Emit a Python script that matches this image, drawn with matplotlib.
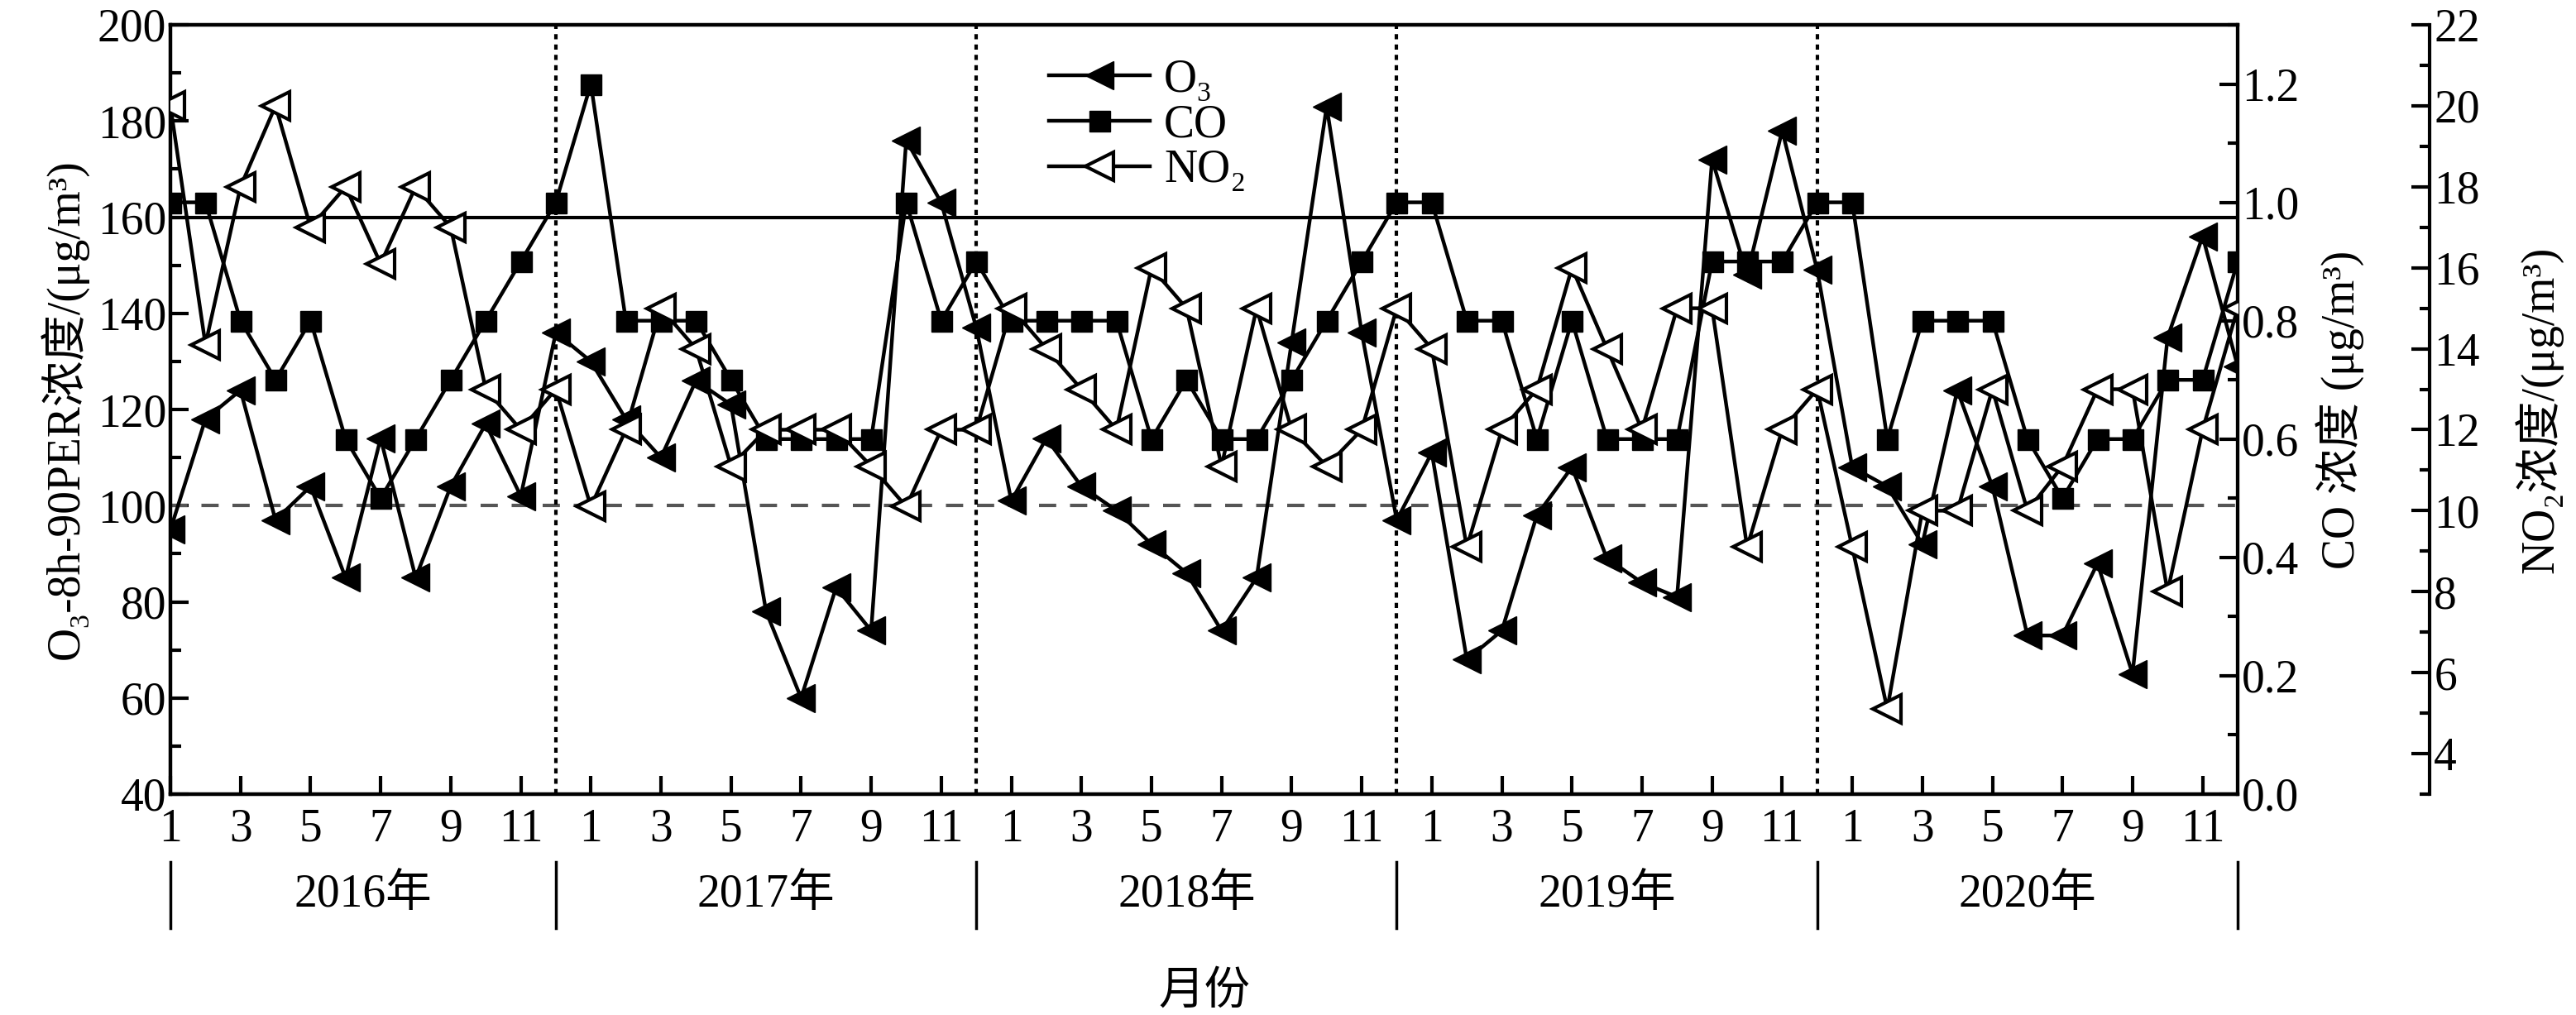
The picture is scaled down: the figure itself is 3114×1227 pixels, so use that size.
import numpy as np
import matplotlib.pyplot as plt
from matplotlib.lines import Line2D
from matplotlib.ticker import MultipleLocator

plt.rcParams['font.family'] = ['Liberation Serif', 'DejaVu Serif', 'Noto Sans CJK SC']
plt.rcParams['font.size'] = 40

years = ['2016年', '2017年', '2018年', '2019年', '2020年']

o3 = [95, 118, 124, 97, 104, 85, 114, 85, 104, 117, 102, 136,
      130, 118, 110, 126, 121, 78, 60, 83, 74, 176, 163, 137,
      101, 114, 104, 99, 92, 86, 74, 85, 134, 183, 136, 97,
      111, 68, 74, 98, 108, 89, 84, 81, 172, 148, 178, 149,
      108, 104, 92, 124, 104, 73, 73, 88, 65, 135, 156, 129]

co = [1.0, 1.0, 0.8, 0.7, 0.8, 0.6, 0.5, 0.6, 0.7, 0.8, 0.9, 1.0,
      1.2, 0.8, 0.8, 0.8, 0.7, 0.6, 0.6, 0.6, 0.6, 1.0, 0.8, 0.9,
      0.8, 0.8, 0.8, 0.8, 0.6, 0.7, 0.6, 0.6, 0.7, 0.8, 0.9, 1.0,
      1.0, 0.8, 0.8, 0.6, 0.8, 0.6, 0.6, 0.6, 0.9, 0.9, 0.9, 1.0,
      1.0, 0.6, 0.8, 0.8, 0.8, 0.6, 0.5, 0.6, 0.6, 0.7, 0.7, 0.9]

no2 = [20.0, 14.1, 18.0, 20.0, 17.0, 18.0, 16.1, 18.0, 17.0, 13.0, 12.0, 13.0,
       10.1, 12.0, 15.0, 14.0, 11.1, 12.0, 12.0, 12.0, 11.1, 10.1, 12.0, 12.0,
       15.0, 14.0, 13.0, 12.0, 16.0, 15.0, 11.1, 15.0, 12.0, 11.1, 12.0, 15.0,
       14.0, 9.1, 12.0, 13.0, 16.0, 14.0, 12.0, 15.0, 15.0, 9.1, 12.0, 13.0,
       9.1, 5.1, 10.0, 10.0, 13.0, 10.0, 11.1, 13.0, 13.0, 8.0, 12.0, 15.0]

x = np.arange(1, 61)

fig = plt.figure(figsize=(31.14, 12.27), dpi=100)
ax = fig.add_axes([206 / 3114, 1 - 960 / 1227, (2705 - 206) / 3114, (960 - 30) / 1227])
ax2 = ax.twinx()
ax3 = ax.twinx()
ax3.spines['right'].set_position(('axes', 1.093))

lw = 3.2
ax.plot(x, o3, '-', color='k', lw=lw, marker='<', ms=24, zorder=3)
ax2.plot(x, co, '-', color='k', lw=lw, marker='s', ms=18, zorder=3)
ax3.plot(x, no2, '-', color='k', lw=lw, marker='<', ms=24, mfc='white', mew=3, zorder=3)

ax.axhline(160, color='k', lw=3)
ax.axhline(100, color='#555555', lw=3, ls=(0, (5, 4)))
for b in [12, 24, 36, 48]:
    ax.axvline(b, color='k', lw=3, ls=(0, (1.5, 1.5)))

ax.set_xlim(1, 60)
ax.set_ylim(40, 200)
ax2.set_ylim(0, 1.3)
ax3.set_ylim(3, 22)

ticks = [12 * i + m for i in range(5) for m in range(1, 12, 2)]
ax.set_xticks(ticks)
ax.set_xticklabels([str(m) for i in range(5) for m in range(1, 12, 2)])
ax.yaxis.set_major_locator(MultipleLocator(20))
ax.yaxis.set_minor_locator(MultipleLocator(10))
ax2.yaxis.set_major_locator(MultipleLocator(0.2))
ax2.yaxis.set_minor_locator(MultipleLocator(0.1))
ax2.yaxis.set_major_formatter(plt.FormatStrFormatter('%.1f'))
ax3.set_yticks(np.arange(4, 23, 2))
ax3.yaxis.set_minor_locator(MultipleLocator(1))

for a in (ax, ax2, ax3):
    a.tick_params(which='both', direction='in', width=3, labelsize=40)
    a.tick_params(which='major', length=16)
    a.tick_params(which='minor', length=9)
    for s in a.spines.values():
        s.set_linewidth(3)
ax.tick_params(axis='x', pad=12)

ax.set_ylabel('O₃-8h-90PER浓度/(μg/m³)', fontsize=40, labelpad=8)
ax2.set_ylabel('CO 浓度 (μg/m³)', fontsize=40, labelpad=14)
ax3.set_ylabel('NO₂浓度/(μg/m³)', fontsize=40, labelpad=30)

# year labels and separators under the axis
tr = ax.get_xaxis_transform()
bounds = [1, 12, 24, 36, 48, 60]
for b in bounds:
    ax.plot([b, b], [-0.088, -0.174], color='k', lw=2.5, transform=tr, clip_on=False)
for i, y in enumerate(years):
    ax.text((bounds[i] + bounds[i + 1]) / 2, -0.131, y, transform=tr,
            ha='center', va='center', fontsize=40)
ax.text(0.5, -0.258, '月份', transform=ax.transAxes, ha='center', va='center', fontsize=40)

handles = [Line2D([], [], color='k', lw=lw, marker='<', ms=24),
           Line2D([], [], color='k', lw=lw, marker='s', ms=18),
           Line2D([], [], color='k', lw=lw, marker='<', ms=24, mfc='white', mew=3)]
ax.legend(handles, ['O₃', 'CO', 'NO₂'], loc='upper left', bbox_to_anchor=(0.405, 1.01),
          frameon=False, fontsize=40, handlelength=2.2, labelspacing=0.05, handletextpad=0.3)

fig.savefig('out.png', dpi=100)
